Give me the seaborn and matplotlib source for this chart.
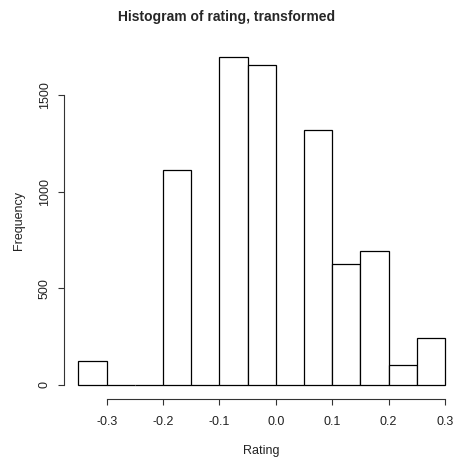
import matplotlib
matplotlib.use("Agg")
import matplotlib.pyplot as plt
import seaborn as sns
import numpy as np

# Data
bin_edges = [-0.35, -0.30, -0.25, -0.20, -0.15, -0.10, -0.05, 0.00, 0.05, 0.10, 0.15, 0.20, 0.25, 0.30]
counts = [125, 0, 0, 1115, 0, 1700, 1657, 0, 1322, 624, 694, 104, 244]
x_ticks = [-0.3, -0.2, -0.1, 0.0, 0.1, 0.2, 0.3]
x_tick_labels = ["-0.3", "-0.2", "-0.1", "0.0", "0.1", "0.2", "0.3"]
y_ticks = [0, 500, 1000, 1500]
title = "Histogram of rating, transformed"
x_label = "Rating"
y_label = "Frequency"

sns.set_theme(style="white")
plt.rcParams["font.family"] = ["Liberation Sans", "DejaVu Sans"]

centers = [(bin_edges[i] + bin_edges[i + 1]) / 2 for i in range(len(counts))]

fig = plt.figure(figsize=(4.53, 4.59), dpi=100)
ax = fig.add_axes([63.8 / 453, (459 - 398) / 459, (459.7 - 63.8) / 453, (398 - 43.6) / 459])

sns.histplot(x=centers, weights=counts, bins=bin_edges, ax=ax,
             color="white", edgecolor="black", linewidth=0.9, alpha=1.0)

ax.set_xlim(-0.376, 0.326)
ax.set_ylim(-68, 1768)
ax.set_xticks(x_ticks)
ax.set_xticklabels(x_tick_labels)
ax.set_yticks(y_ticks)
ax.set_yticklabels([str(v) for v in y_ticks], rotation=90, va="center")

for s in ["top", "right"]:
    ax.spines[s].set_visible(False)
ax.spines["left"].set_bounds(0, 1500)
ax.spines["bottom"].set_bounds(-0.3, 0.3)
ax.spines["left"].set_color("#333333")
ax.spines["bottom"].set_color("#333333")
ax.spines["left"].set_linewidth(0.8)
ax.spines["bottom"].set_linewidth(0.8)
ax.spines["bottom"].set_position(("outward", 1))
ax.tick_params(axis="both", which="both", direction="out", length=4.5, width=0.8,
               color="#333333", bottom=True, left=True, labelcolor="#222222",
               labelsize=9)
ax.tick_params(axis="x", pad=7.5)
ax.tick_params(axis="y", pad=5)
ax.grid(False)

ax.set_xlabel(x_label, fontsize=9, labelpad=12, color="#222222")
ax.set_ylabel(y_label, fontsize=9, labelpad=10, color="#222222")
fig.text(0.5, 1 - 17 / 459, title, ha="center", va="center", fontsize=10, fontweight="bold")

fig.savefig("out.png", dpi=100)
